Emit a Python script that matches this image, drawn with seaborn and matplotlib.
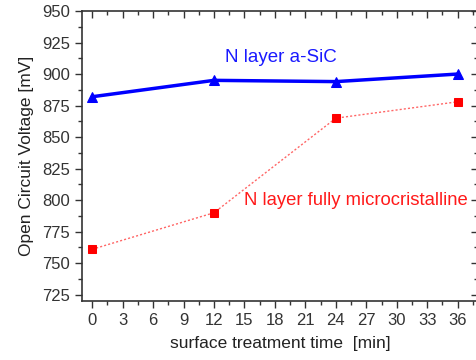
import numpy as np
import pandas as pd
import seaborn as sns
import matplotlib
matplotlib.use("Agg")
import matplotlib.pyplot as plt
from matplotlib.ticker import MultipleLocator

# data
time_min = [0, 12, 24, 36]
voc_asic = [882, 895, 894, 900]
voc_micro = [761, 790, 865, 878]

sns.set_style("ticks")
plt.rcParams["font.family"] = ["Liberation Sans", "DejaVu Sans"]

fig = plt.figure(figsize=(4.76, 3.6), dpi=100)
ax = fig.add_axes([82 / 476, 59 / 360, 396 / 476, 290 / 360])

df_a = pd.DataFrame({"t": time_min, "voc": voc_asic})
df_m = pd.DataFrame({"t": time_min, "voc": voc_micro})

sns.lineplot(data=df_m, x="t", y="voc", ax=ax, color="#ff6666", lw=1,
             linestyle=(0, (1.5, 1.5)), marker="s", markersize=6,
             markerfacecolor="#ff0000", markeredgecolor="#ff0000")
sns.lineplot(data=df_a, x="t", y="voc", ax=ax, color="#0000ff", lw=2.5,
             marker="^", markersize=7, markerfacecolor="#0000ff",
             markeredgecolor="#0000ff")

ax.set_xlim(-1, 38)
ax.set_ylim(720, 950)
ax.xaxis.set_major_locator(MultipleLocator(3))
ax.xaxis.set_minor_locator(MultipleLocator(1.5))
ax.yaxis.set_major_locator(MultipleLocator(25))
ax.yaxis.set_minor_locator(MultipleLocator(12.5))

for s in ax.spines.values():
    s.set_color("#333333")
    s.set_linewidth(1.2)

ax.tick_params(axis="both", which="both", colors="#333333", labelcolor="#333333")
ax.tick_params(axis="x", which="both", bottom=True, top=True, direction="out")
ax.tick_params(axis="y", which="both", left=True, right=True, direction="out")
ax.tick_params(which="major", length=5, width=1, labelsize=12)
ax.tick_params(which="minor", length=3, width=1)
# top and right ticks point inward
for t in ax.xaxis.get_major_ticks() + ax.xaxis.get_minor_ticks():
    t.tick2line.set_marker(3)
for t in ax.yaxis.get_major_ticks() + ax.yaxis.get_minor_ticks():
    t.tick2line.set_marker(0)

ax.set_xlabel("surface treatment time  [min]", fontsize=12.5, color="#222222", labelpad=6)
ax.set_ylabel("Open Circuit Voltage [mV]", fontsize=12.5, color="#222222", labelpad=6)

ax.text(18.6, 906, "N layer a-SiC", color="#1a1aff", fontsize=13.5, ha="center", va="bottom")
ax.text(15.0, 800, "N layer fully microcristalline", color="#ff1a1a", fontsize=13.3,
        ha="left", va="center")

fig.savefig("out.png", dpi=100)
